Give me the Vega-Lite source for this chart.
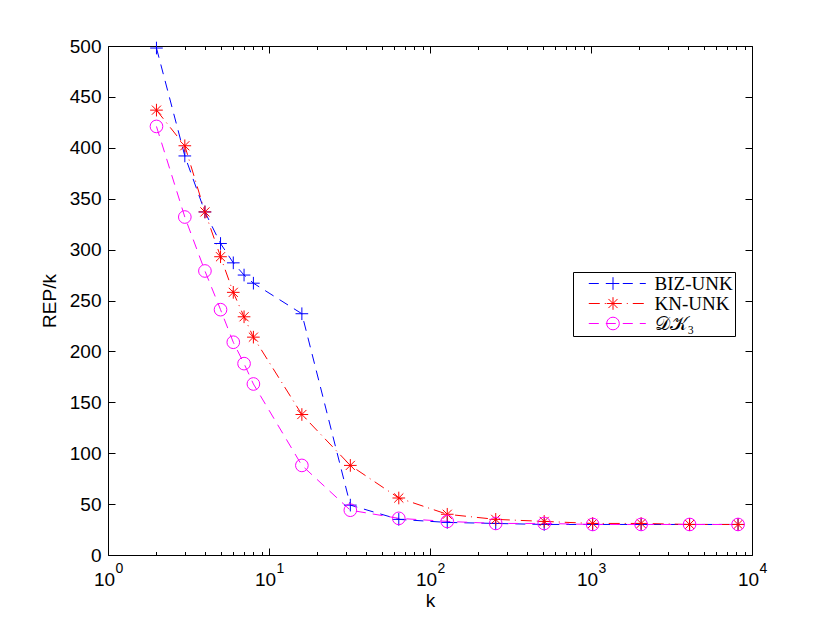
{
  "$schema": "https://vega.github.io/schema/vega-lite/v6.json",
  "autosize": {"type": "none"},
  "padding": {"left": 108, "top": 46, "right": 78, "bottom": 69},
  "width": 644,
  "height": 509,
  "background": "white",
  "config": {
    "view": {"stroke": "black", "strokeWidth": 1},
    "axis": {
      "labelFont": "Liberation Sans",
      "labelFontSize": 19,
      "labelColor": "black",
      "titleFont": "Liberation Sans",
      "titleFontSize": 19,
      "titleFontWeight": "normal",
      "titleColor": "black",
      "domain": false,
      "grid": false,
      "tickColor": "black",
      "labelOverlap": false,
      "labelFlush": false
    }
  },
  "data": {
    "values": [
      {"k": 2, "v": 498, "s": "BIZ-UNK"},
      {"k": 3, "v": 392, "s": "BIZ-UNK"},
      {"k": 4, "v": 337, "s": "BIZ-UNK"},
      {"k": 5, "v": 306, "s": "BIZ-UNK"},
      {"k": 6, "v": 287, "s": "BIZ-UNK"},
      {"k": 7, "v": 275, "s": "BIZ-UNK"},
      {"k": 8, "v": 267, "s": "BIZ-UNK"},
      {"k": 16, "v": 237, "s": "BIZ-UNK"},
      {"k": 32, "v": 49, "s": "BIZ-UNK"},
      {"k": 64, "v": 35, "s": "BIZ-UNK"},
      {"k": 128, "v": 32, "s": "BIZ-UNK"},
      {"k": 256, "v": 31, "s": "BIZ-UNK"},
      {"k": 512, "v": 30, "s": "BIZ-UNK"},
      {"k": 1024, "v": 30, "s": "BIZ-UNK"},
      {"k": 2048, "v": 30, "s": "BIZ-UNK"},
      {"k": 4096, "v": 30, "s": "BIZ-UNK"},
      {"k": 8192, "v": 30, "s": "BIZ-UNK"},
      {"k": 2, "v": 437, "s": "KN-UNK"},
      {"k": 3, "v": 402, "s": "KN-UNK"},
      {"k": 4, "v": 337, "s": "KN-UNK"},
      {"k": 5, "v": 293, "s": "KN-UNK"},
      {"k": 6, "v": 258, "s": "KN-UNK"},
      {"k": 7, "v": 234, "s": "KN-UNK"},
      {"k": 8, "v": 214, "s": "KN-UNK"},
      {"k": 16, "v": 138, "s": "KN-UNK"},
      {"k": 32, "v": 88, "s": "KN-UNK"},
      {"k": 64, "v": 56, "s": "KN-UNK"},
      {"k": 128, "v": 40, "s": "KN-UNK"},
      {"k": 256, "v": 35, "s": "KN-UNK"},
      {"k": 512, "v": 33, "s": "KN-UNK"},
      {"k": 1024, "v": 31, "s": "KN-UNK"},
      {"k": 2048, "v": 31, "s": "KN-UNK"},
      {"k": 4096, "v": 30, "s": "KN-UNK"},
      {"k": 8192, "v": 30, "s": "KN-UNK"},
      {"k": 2, "v": 421, "s": "𝒟𝒦₃"},
      {"k": 3, "v": 332, "s": "𝒟𝒦₃"},
      {"k": 4, "v": 279, "s": "𝒟𝒦₃"},
      {"k": 5, "v": 241, "s": "𝒟𝒦₃"},
      {"k": 6, "v": 209, "s": "𝒟𝒦₃"},
      {"k": 7, "v": 188, "s": "𝒟𝒦₃"},
      {"k": 8, "v": 168, "s": "𝒟𝒦₃"},
      {"k": 16, "v": 88, "s": "𝒟𝒦₃"},
      {"k": 32, "v": 44, "s": "𝒟𝒦₃"},
      {"k": 64, "v": 36, "s": "𝒟𝒦₃"},
      {"k": 128, "v": 33, "s": "𝒟𝒦₃"},
      {"k": 256, "v": 31, "s": "𝒟𝒦₃"},
      {"k": 512, "v": 31, "s": "𝒟𝒦₃"},
      {"k": 1024, "v": 30, "s": "𝒟𝒦₃"},
      {"k": 2048, "v": 30, "s": "𝒟𝒦₃"},
      {"k": 4096, "v": 30, "s": "𝒟𝒦₃"},
      {"k": 8192, "v": 30, "s": "𝒟𝒦₃"}
    ]
  },
  "resolve": {"axis": {"x": "independent", "y": "independent"}},
  "layer": [
    {
      "mark": {"type": "line", "strokeWidth": 1, "clip": true},
      "encoding": {
        "x": {
          "field": "k", "type": "quantitative",
          "scale": {"type": "log", "domain": [1, 10000], "nice": false},
          "axis": {
            "orient": "bottom",
            "title": "k",
            "titlePadding": 2,
            "values": [1, 10, 100, 1000, 10000],
            "labelExpr": "'10'",
            "ticks": false,
            "labelBaseline": "middle",
            "labelPadding": 24,
            "labelOffset": -4
          }
        },
        "y": {
          "field": "v", "type": "quantitative",
          "scale": {"domain": [0, 500], "nice": false},
          "axis": {
            "orient": "left",
            "title": "REP/k",
            "titlePadding": 10,
            "values": [0, 50, 100, 150, 200, 250, 300, 350, 400, 450, 500],
            "tickSize": -7,
            "labelPadding": 14
          }
        },
        "color": {
          "field": "s", "type": "nominal",
          "scale": {"domain": ["BIZ-UNK", "KN-UNK", "𝒟𝒦₃"], "range": ["#0000ff", "#ff0000", "#ff00ff"]},
          "legend": {
            "title": null,
            "orient": "none",
            "legendX": 465,
            "legendY": 226,
            "strokeColor": "black",
            "fillColor": "white",
            "padding": 2,
            "symbolType": "M-5,0H5",
            "symbolSize": 130,
            "symbolStrokeWidth": 1,
            "symbolOffset": 32.8,
            "labelOffset": 27.8,
            "labelFont": "Liberation Serif",
            "labelFontSize": 19,
            "labelColor": "black",
            "labelExpr": "datum.label + '\u00a0\u00a0\u00a0\u00a0'",
            "rowPadding": 0
          }
        },
        "strokeDash": {
          "field": "s", "type": "nominal",
          "scale": {"domain": ["BIZ-UNK", "KN-UNK", "𝒟𝒦₃"], "range": [[10, 7], [11, 5, 1, 5], [10, 7]]}
        }
      }
    },
    {
      "mark": {"type": "point", "filled": false, "strokeWidth": 1, "size": 160, "opacity": 1},
      "encoding": {
        "x": {
          "field": "k", "type": "quantitative",
          "scale": {"type": "log", "domain": [1, 10000], "nice": false},
          "axis": {
            "orient": "top",
            "title": null,
            "labels": false,
            "values": [1,2,3,4,5,6,7,8,9,10,20,30,40,50,60,70,80,90,100,200,300,400,500,600,700,800,900,1000,2000,3000,4000,5000,6000,7000,8000,9000,10000],
            "tickSize": {"condition": {"test": "indexof([1,10,100,1000,10000], datum.value) >= 0", "value": -7}, "value": -3.5}
          }
        },
        "y": {
          "field": "v", "type": "quantitative",
          "scale": {"domain": [0, 500], "nice": false},
          "axis": {
            "orient": "right",
            "title": null,
            "labels": false,
            "values": [0, 50, 100, 150, 200, 250, 300, 350, 400, 450, 500],
            "tickSize": -7
          }
        },
        "stroke": {
          "field": "s", "type": "nominal",
          "scale": {"range": ["#0000ff", "#ff0000", "#ff00ff"]},
          "legend": {
            "title": null,
            "orient": "none",
            "legendX": 493.5,
            "legendY": 226,
            "padding": 2,
            "symbolSize": 160,
            "symbolStrokeWidth": 1,
            "labelFont": "Liberation Serif",
            "labelFontSize": 19,
            "labelExpr": "''",
            "rowPadding": 0
          }
        },
        "shape": {
          "field": "s", "type": "nominal",
          "scale": {
            "range": [
              "M-1,0H1M0,-1V1",
              "M-1,0H1M0,-1V1M-0.72,-0.72L0.72,0.72M-0.72,0.72L0.72,-0.72",
              "circle"
            ]
          }
        }
      }
    },
    {
      "mark": {"type": "point", "opacity": 0},
      "encoding": {
        "x": {
          "field": "k", "type": "quantitative",
          "scale": {"type": "log", "domain": [1, 10000], "nice": false},
          "axis": {
            "orient": "bottom",
            "title": null,
            "labels": false,
            "values": [1,2,3,4,5,6,7,8,9,10,20,30,40,50,60,70,80,90,100,200,300,400,500,600,700,800,900,1000,2000,3000,4000,5000,6000,7000,8000,9000,10000],
            "tickSize": {"condition": {"test": "indexof([1,10,100,1000,10000], datum.value) >= 0", "value": -7}, "value": -3.5}
          }
        },
        "y": {
          "field": "v", "type": "quantitative",
          "scale": {"domain": [0, 500], "nice": false},
          "axis": null
        }
      }
    },
    {
      "mark": {"type": "point", "opacity": 0},
      "encoding": {
        "x": {
          "field": "k", "type": "quantitative",
          "scale": {"type": "log", "domain": [1, 10000], "nice": false},
          "axis": {
            "orient": "bottom",
            "title": null,
            "values": [1, 10, 100, 1000, 10000],
            "labelExpr": "format(log(datum.value) / LN10, '.0f')",
            "ticks": false,
            "labelFontSize": 14,
            "labelBaseline": "middle",
            "labelPadding": 13,
            "labelOffset": 11
          }
        },
        "y": {
          "field": "v", "type": "quantitative",
          "scale": {"domain": [0, 500], "nice": false},
          "axis": null
        }
      }
    }
  ]
}
